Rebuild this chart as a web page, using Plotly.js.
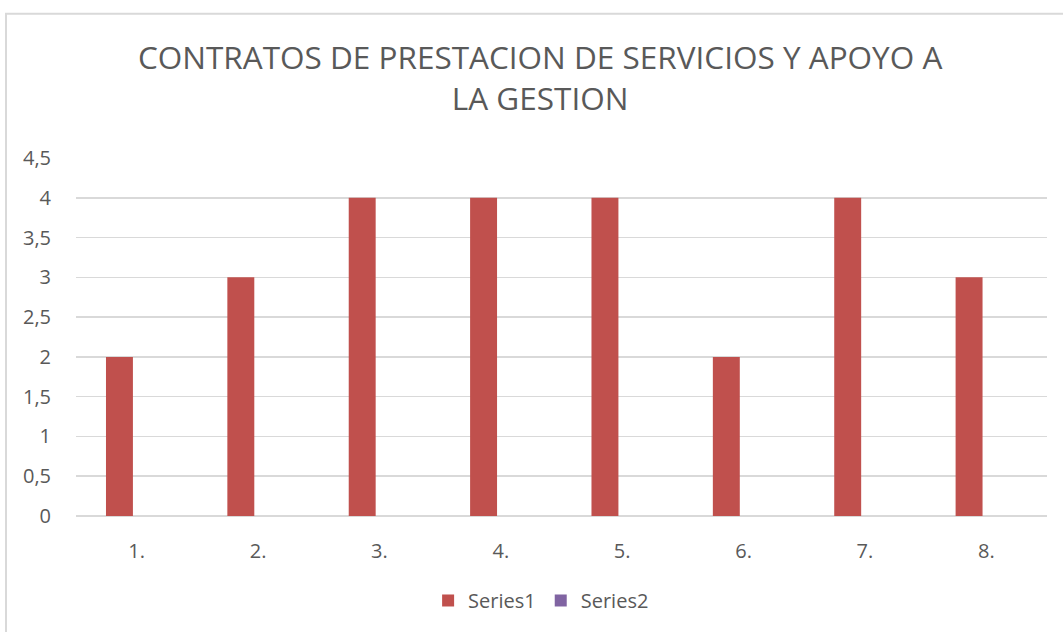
<!DOCTYPE html>
<html>
<head>
<meta charset="utf-8">
<script src="https://cdn.plot.ly/plotly-3.0.1.min.js"></script>
<style>
html,body{margin:0;padding:0;background:#fff;}
#chart{width:1063px;height:632px;}
</style>
</head>
<body>
<div id="chart"></div>
<script>
const categories = ["1.", "2.", "3.", "4.", "5.", "6.", "7.", "8."];
const series1 = [2, 3, 4, 4, 4, 2, 4, 3];
const series2 = [null, null, null, null, null, null, null, null];
const yTicks = [0, 0.5, 1, 1.5, 2, 2.5, 3, 3.5, 4, 4.5];

const FONT = "Open Sans, Liberation Sans, sans-serif";
const GRAY = "#595959";

const traces = [
  {
    type: "bar", name: "Series1", x: categories, y: series1,
    marker: {color: "#C0504D"},
    width: 0.222, offset: -0.253,
    hoverinfo: "x+y"
  },
  {
    type: "bar", name: "Series2", x: categories, y: series2,
    marker: {color: "#8064A2"},
    width: 0.222, offset: -0.031,
    hoverinfo: "x+y"
  }
];

const layout = {
  width: 1063, height: 632,
  margin: {l: 76, r: 16, t: 158, b: 114},
  paper_bgcolor: "#fff", plot_bgcolor: "#fff",
  separators: ",.",
  font: {family: FONT, color: GRAY, size: 20},
  title: {
    text: "CONTRATOS DE PRESTACION DE SERVICIOS Y APOYO A<br>LA GESTION",
    font: {family: FONT, size: 31.5, color: GRAY},
    x: 0.478, xanchor: "center", xref: "paper",
    y: 0.891, yanchor: "middle", yref: "container"
  },
  barmode: "overlay",
  showlegend: true,
  legend: {
    orientation: "h", x: 0.479, xanchor: "center", y: -0.236, yanchor: "middle",
    font: {family: FONT, size: 20, color: GRAY},
    traceorder: "normal", itemwidth: 30
  },
  xaxis: {
    type: "category",
    showgrid: false, zeroline: false, showline: false,
    ticks: "", tickfont: {family: FONT, size: 20, color: GRAY},
    ticklabelstandoff: 21
  },
  yaxis: {
    range: [0, 4.5], tickvals: yTicks,
    showgrid: true, gridcolor: "#D9D9D9", gridwidth: 1.5,
    zeroline: true, zerolinecolor: "#D9D9D9", zerolinewidth: 1.5,
    showline: false, ticks: "",
    tickfont: {family: FONT, size: 20, color: GRAY},
    ticklabelstandoff: 24
  },
  shapes: [{
    type: "rect", xref: "paper", yref: "paper",
    x0: -0.0721, x1: 1.03, y0: -0.35, y1: 1.4028,
    line: {color: "#D9D9D9", width: 2}, fillcolor: "rgba(0,0,0,0)", layer: "below"
  }]
};

Plotly.newPlot("chart", traces, layout, {displayModeBar: false, staticPlot: true});
</script>
</body>
</html>
